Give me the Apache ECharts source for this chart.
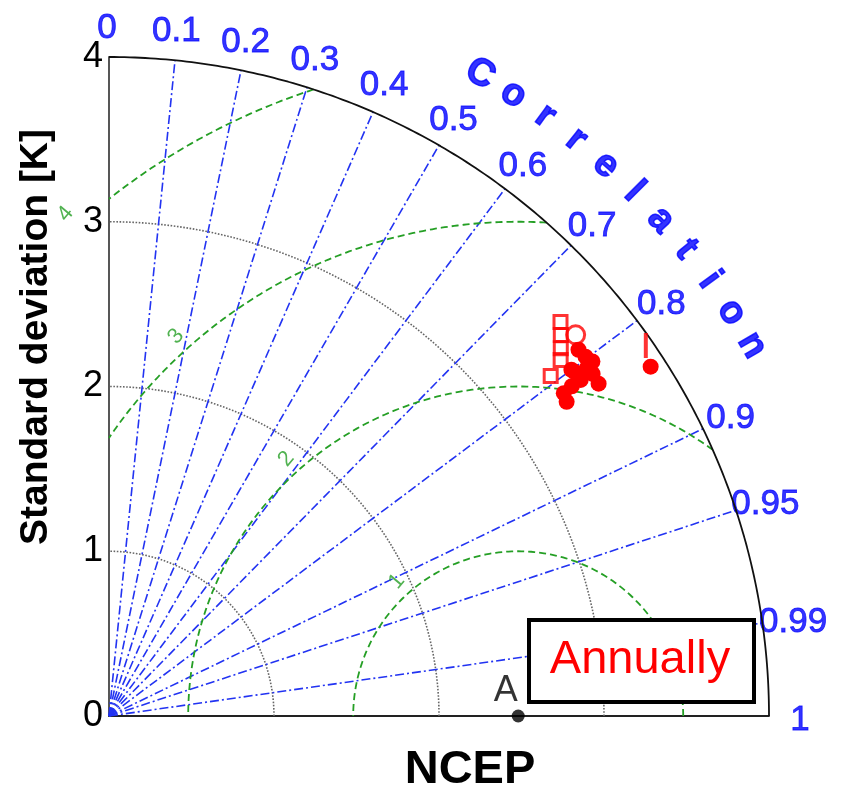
<!DOCTYPE html>
<html><head><meta charset="utf-8">
<script src="https://cdn.jsdelivr.net/npm/echarts@6/dist/echarts.min.js"></script>
<style>html,body{margin:0;padding:0;background:#fff}#c{width:845px;height:792px}</style>
</head><body><div id="c"></div>
<script>
// ---- data ----
const maxStd = 4;
const stdTicks = [0, 1, 2, 3, 4];
const stdCircles = [1, 2, 3];
const corrLines = [0.1, 0.2, 0.3, 0.4, 0.5, 0.6, 0.7, 0.8, 0.9, 0.95, 0.99];
const corrTickLabels = [0, 0.1, 0.2, 0.3, 0.4, 0.5, 0.6, 0.7, 0.8, 0.9, 0.95, 0.99, 1];
const refStd = 2.48;
const refName = 'A';
const rmsCircles = [1, 2, 3, 4];
const rmsLabels = ['1', '2', '3', '4'];
const corrTitle = 'Correlation';
// model points (std, correlation)
const squareStd  = [3.634, 3.584, 3.533, 3.487, 3.380];
const squareCorr = [0.753, 0.764, 0.775, 0.785, 0.792];
const ringStd  = [3.654];
const ringCorr = [0.774];
const dotStd  = [3.611, 3.619, 3.584, 3.511, 3.592, 3.512, 3.588, 3.382, 3.366, 3.908, 3.503, 3.446, 3.635];
const dotCorr = [0.788, 0.798, 0.808, 0.804, 0.816, 0.814, 0.827, 0.815, 0.824, 0.840, 0.800, 0.814, 0.806];
const barStd  = [3.955];
const barCorr = [0.8226];
const boxLabel = 'Annually';
const xTitle = 'NCEP';
const yTitle = 'Standard deviation [K]';

// ---- helpers ----
const FONT = "'Liberation Sans', Arial, sans-serif";
const BLUE = '#0000ff';
const GREEN = '#259f25';
function polar(s, c) { const a = Math.acos(c); return [s * Math.cos(a), s * Math.sin(a)]; }
function arc(cx, r, a0, a1, n) {
  const pts = [];
  for (let i = 0; i <= n; i++) { const t = a0 + (a1 - a0) * i / n; pts.push([cx + r * Math.cos(t), r * Math.sin(t)]); }
  return pts;
}
function lineSeries(data, style, z) {
  return { type: 'line', data, showSymbol: false, symbol: 'none', silent: true, clip: false,
           animation: false, lineStyle: style, z: z || 2 };
}
const series = [];
// outer boundary
series.push(lineSeries(arc(0, maxStd, 0, Math.PI / 2, 200), { color: '#111', width: 1.8, type: 'solid' }, 3));
// std dotted circles
stdCircles.forEach(r => series.push(lineSeries(arc(0, r, 0, Math.PI / 2, 160), { color: '#666', width: 1.6, type: 'dotted' })));
// correlation lines
corrLines.forEach(c => series.push(lineSeries([[0, 0], polar(maxStd, c)], { color: '#2233f2', width: 1.6, type: [9, 3, 2, 3] })));
// RMS circles centred on the reference
rmsCircles.forEach(R => {
  const cmax = (maxStd * maxStd - refStd * refStd - R * R) / (2 * refStd * R);
  const a0 = Math.acos(Math.min(1, cmax));
  const a1 = Math.acos(Math.max(-1, -refStd / R));
  series.push(lineSeries(arc(refStd, R, a0, a1, 160), { color: GREEN, width: 1.8, type: [7, 4] }));
});
// RMS labels
const labAng = 132 * Math.PI / 180;
series.push({ type: 'scatter', symbolSize: 0, silent: true, clip: false, animation: false,
  data: rmsCircles.map((R, i) => ({ value: [refStd + (R + 0.1) * Math.cos(labAng), (R + 0.1) * Math.sin(labAng)], name: rmsLabels[i] })),
  label: { show: true, position: 'inside', formatter: p => p.name, rotate: 50, color: GREEN, fontSize: 22, fontFamily: FONT } });
// correlation tick labels
series.push({ type: 'scatter', symbolSize: 0, silent: true, clip: false, animation: false,
  data: corrTickLabels.map(c => ({ value: polar(4.2, c), name: String(c) })),
  label: { show: true, position: 'inside', offset: [-2, 4], formatter: p => p.name, color: BLUE, fontSize: 35, fontFamily: FONT,
           textBorderColor: BLUE, textBorderWidth: 0.8 } });
// "Correlation" along arc
const letters = corrTitle.split('');
series.push({ type: 'scatter', symbolSize: 0, silent: true, clip: false, animation: false,
  data: letters.map((ch, i) => {
    const deg = 60 - i * 3; const a = deg * Math.PI / 180;
    return { value: [4.5 * Math.cos(a), 4.5 * Math.sin(a)], name: ch, label: { rotate: deg - 90 } };
  }),
  label: { show: true, position: 'inside', formatter: p => p.name, color: BLUE, fontSize: 38, fontWeight: 'bold', fontFamily: FONT,
           textBorderColor: BLUE, textBorderWidth: 1.5 } });
// reference point
series.push({ type: 'scatter', symbol: 'circle', symbolSize: 13, clip: false, animation: false, z: 5,
  data: [{ value: [refStd, 0], name: refName }], itemStyle: { color: '#000' },
  label: { show: true, formatter: p => p.name, position: [-18, -36], color: '#000', fontSize: 36, fontFamily: FONT } });
// model markers
series.push({ type: 'scatter', symbol: 'circle', symbolSize: 16, clip: false, animation: false, z: 6,
  data: dotStd.map((s, i) => polar(s, dotCorr[i])), itemStyle: { color: '#ff0000', opacity: 1 } });
series.push({ type: 'scatter', symbol: 'rect', symbolSize: 13, clip: false, animation: false, z: 7,
  data: squareStd.map((s, i) => polar(s, squareCorr[i])),
  itemStyle: { color: 'rgba(255,255,255,0)', borderColor: '#ff0000', borderWidth: 3 } });
series.push({ type: 'scatter', symbol: 'circle', symbolSize: 18, clip: false, animation: false, z: 7,
  data: ringStd.map((s, i) => polar(s, ringCorr[i])),
  itemStyle: { color: 'rgba(255,255,255,0)', borderColor: '#ff0000', borderWidth: 3 } });
series.push({ type: 'scatter', symbol: 'rect', symbolSize: [4, 25], clip: false, animation: false, z: 6,
  data: barStd.map((s, i) => polar(s, barCorr[i])), itemStyle: { color: '#ff0000' } });

const chart = echarts.init(document.getElementById('c'), null, { renderer: 'canvas' });
chart.setOption({
  backgroundColor: '#fff',
  animation: false,
  grid: { left: 109, top: 57, right: 76, bottom: 76 },
  xAxis: { type: 'value', min: 0, max: maxStd, interval: 1,
    axisLine: { show: true, onZero: false, lineStyle: { color: '#222', width: 1.8 } },
    axisTick: { show: false }, axisLabel: { show: false }, splitLine: { show: false } },
  yAxis: { type: 'value', min: stdTicks[0], max: stdTicks[stdTicks.length - 1], interval: 1,
    axisLine: { show: true, onZero: false, lineStyle: { color: '#444', width: 1.8 } },
    axisTick: { show: false }, splitLine: { show: false },
    axisLabel: { show: true, color: '#000', fontSize: 36, fontFamily: FONT, margin: 6 } },
  series,
  graphic: [
    { type: 'rect', left: 527, top: 618, z: 20, shape: { width: 225, height: 82 },
      style: { fill: '#fff', stroke: '#000', lineWidth: 4 } },
    { type: 'text', x: 640, y: 660, z: 21,
      style: { text: boxLabel, fill: '#ff0000', font: '47px ' + FONT, align: 'center', verticalAlign: 'middle', textAlign: 'center', textVerticalAlign: 'middle' } },
    { type: 'text', x: 470, y: 770, z: 21,
      style: { text: xTitle, fill: '#000', font: 'bold 47px ' + FONT, align: 'center', verticalAlign: 'middle', textAlign: 'center', textVerticalAlign: 'middle' } },
    { type: 'text', x: 36, y: 337, rotation: Math.PI / 2, z: 1,
      style: { text: yTitle, fill: '#000', font: 'bold 39px ' + FONT, align: 'center', verticalAlign: 'middle', textAlign: 'center', textVerticalAlign: 'middle' } }
  ]
});
</script></body></html>
